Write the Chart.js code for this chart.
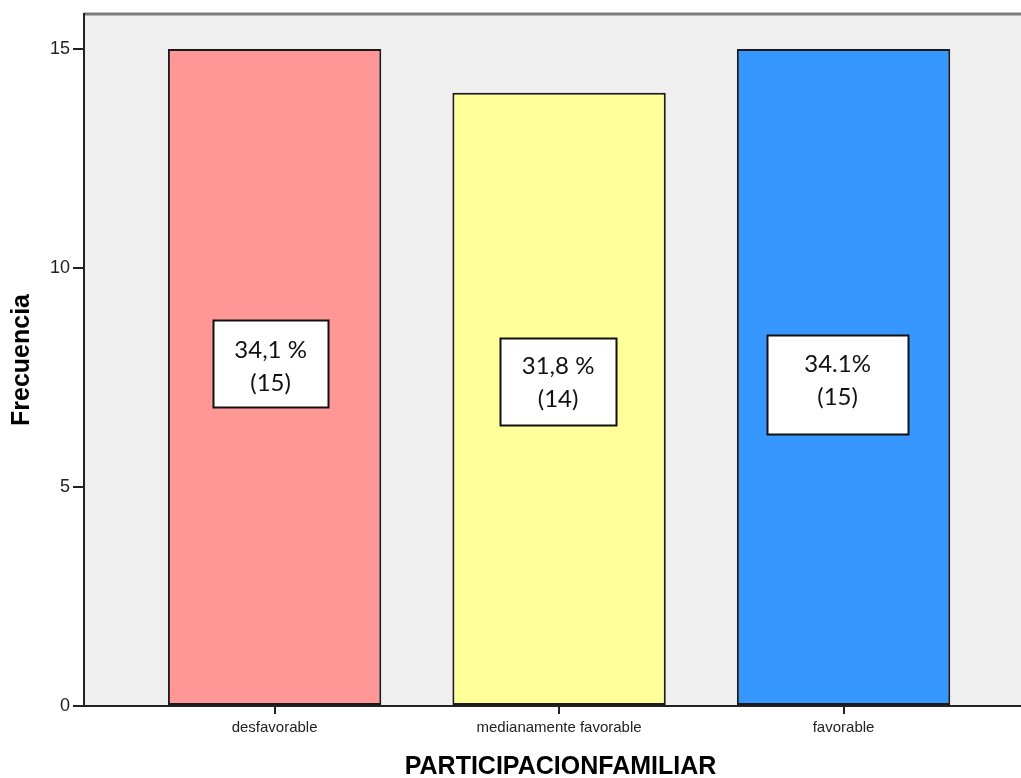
<!DOCTYPE html>
<html>
<head>
<meta charset="utf-8">
<title>PARTICIPACIONFAMILIAR</title>
<script src="https://cdn.jsdelivr.net/npm/chart.js@4.4.1/dist/chart.umd.min.js"></script>
<style>
  html, body { margin: 0; padding: 0; background: #ffffff; overflow: hidden; }
  #wrap { width: 1021px; height: 778px; overflow: hidden; position: relative; }
  #wrap canvas { display: block; }
</style>
</head>
<body>
<div id="wrap"><canvas id="chart" width="1045" height="778"></canvas></div>
<script>
// Frequency of each family-participation level
const categories = ['desfavorable', 'medianamente favorable', 'favorable'];
const frequencies = [15, 14, 15];
const percentLabels = ['34,1 %', '31,8 %', '34.1%'];
const yTicks = [0, 5, 10, 15];

// Bar fills per category
const barColors = ['#ff9797', '#ffff99', '#3698fe'];

// Placement of the annotation boxes: horizontal shift from the bar centre (px),
// vertical centre in axis units, box width/height (px), text shift inside the box (px)
const boxLayout = [
  { dx: -4, mid: 7.82, w: 115, h: 87, textDy: 3 },
  { dx: -1, mid: 7.40, w: 116, h: 87, textDy: 1 },
  { dx: -6, mid: 7.33, w: 141, h: 99, textDy: -4 }
];

const W = 1045, H = 778;
const PLOT_LEFT = 84, PLOT_TOP = 14, PLOT_BOTTOM = 706, PLOT_RIGHT = 1037;

// Grey plot panel with its darker top rule
const panelPlugin = {
  id: 'panel',
  beforeDraw(chart) {
    const { ctx, chartArea: a } = chart;
    ctx.save();
    ctx.fillStyle = '#efefef';
    ctx.fillRect(a.left, a.top, a.right - a.left, a.bottom - a.top);
    ctx.strokeStyle = '#7b7b7b';
    ctx.lineWidth = 3;
    ctx.beginPath();
    ctx.moveTo(a.left, a.top);
    ctx.lineTo(a.right + 10, a.top);
    ctx.stroke();
    ctx.restore();
  }
};

// White boxes with percentage and count inside each bar
const boxLabelPlugin = {
  id: 'boxLabels',
  afterDatasetsDraw(chart) {
    const { ctx } = chart;
    const yScale = chart.scales.y;
    const meta = chart.getDatasetMeta(0);
    ctx.save();
    meta.data.forEach((bar, i) => {
      const L = boxLayout[i];
      const cx = bar.x + L.dx;
      const cy = yScale.getPixelForValue(L.mid);
      const x0 = Math.round(cx - L.w / 2) + 0.5;
      const y0 = Math.round(cy - L.h / 2) + 0.5;
      ctx.fillStyle = '#ffffff';
      ctx.fillRect(x0, y0, L.w, L.h);
      ctx.strokeStyle = '#111111';
      ctx.lineWidth = 2;
      ctx.strokeRect(x0, y0, L.w, L.h);
      ctx.fillStyle = '#111111';
      ctx.font = '24px Lato, "Liberation Sans", sans-serif';
      ctx.textAlign = 'center';
      ctx.textBaseline = 'middle';
      const ty = cy + L.textDy;
      ctx.fillText(percentLabels[i], cx, ty - 16.5);
      ctx.fillText('(' + frequencies[i] + ')', cx, ty + 16.5);
    });
    ctx.restore();
  }
};

new Chart(document.getElementById('chart'), {
  type: 'bar',
  data: {
    datasets: [{
      data: categories.map((c, i) => ({ x: i, y: frequencies[i] })),
      backgroundColor: barColors,
      borderColor: '#1a1a1a',
      borderWidth: 2,
      borderSkipped: false,
      categoryPercentage: 1,
      barPercentage: 0.75
    }]
  },
  options: {
    responsive: false,
    animation: false,
    events: [],
    layout: { padding: { top: PLOT_TOP, right: W - PLOT_RIGHT, left: 0, bottom: 0 } },
    plugins: { legend: { display: false }, tooltip: { enabled: false } },
    scales: {
      x: {
        type: 'linear',
        offset: false,
        min: -0.67,
        max: 2.68,
        afterBuildTicks(scale) { scale.ticks = categories.map((c, i) => ({ value: i })); },
        afterFit(scale) { scale.height = H - PLOT_BOTTOM; },
        ticks: {
          callback: (v) => categories[v],
          color: '#222222',
          font: { family: '"Liberation Sans", Arial, sans-serif', size: 15 },
          padding: 5,
          maxRotation: 0,
          autoSkip: false
        },
        grid: { offset: false, drawOnChartArea: false, drawTicks: true, tickLength: 8, color: '#222222', lineWidth: 2 },
        border: { display: true, color: '#222222', width: 2 },
        title: {
          display: true,
          text: 'PARTICIPACIONFAMILIAR',
          color: '#000000',
          font: { family: '"Liberation Sans", Arial, sans-serif', size: 25, weight: 'bold', lineHeight: 1 },
          padding: { top: 0, bottom: -2 }
        }
      },
      y: {
        type: 'linear',
        min: 0,
        max: 15.8,
        afterBuildTicks(scale) { scale.ticks = yTicks.map(v => ({ value: v })); },
        afterFit(scale) { scale.width = PLOT_LEFT; },
        ticks: {
          color: '#222222',
          font: { family: '"Liberation Sans", Arial, sans-serif', size: 18 },
          padding: 3
        },
        grid: { drawOnChartArea: false, drawTicks: true, tickLength: 11, color: '#222222', lineWidth: 2 },
        border: { display: true, color: '#222222', width: 2 },
        title: {
          display: true,
          text: 'Frecuencia',
          color: '#000000',
          font: { family: '"Liberation Sans", Arial, sans-serif', size: 25, weight: 'bold', lineHeight: 1 },
          padding: { top: 10, bottom: 0 }
        }
      }
    }
  },
  plugins: [panelPlugin, boxLabelPlugin]
});
</script>
</body>
</html>
